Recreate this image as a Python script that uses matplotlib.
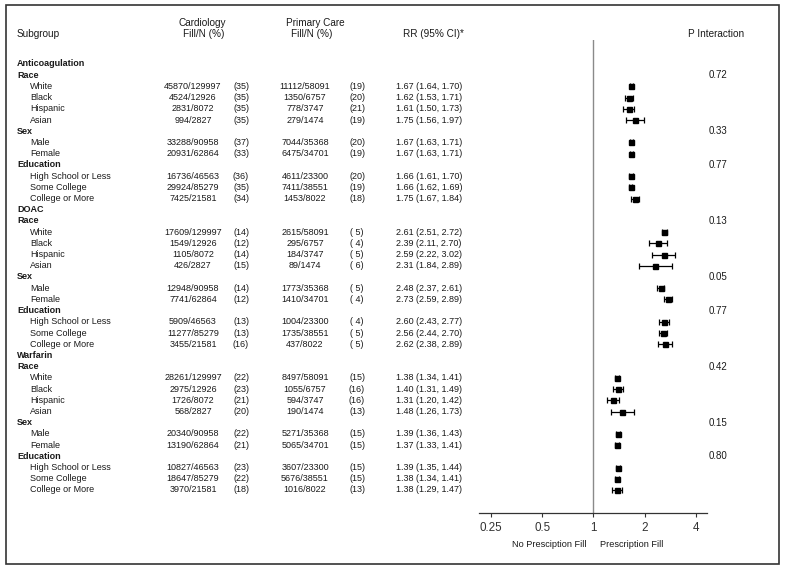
import numpy as np
import matplotlib
matplotlib.use('Agg')
import matplotlib.pyplot as plt
from matplotlib.transforms import blended_transform_factory
from matplotlib.patches import Rectangle

plt.rcParams['font.family'] = ['Liberation Sans', 'DejaVu Sans']

# ---- data ----
sections = ['Anticoagulation', 'DOAC', 'Warfarin']
categories = ['Race', 'Sex', 'Education']
subgroups = [['White', 'Black', 'Hispanic', 'Asian'],
             ['Male', 'Female'],
             ['High School or Less', 'Some College', 'College or More']]

card_fill = [[45870, 4524, 2831, 994, 33288, 20931, 16736, 29924, 7425],
             [17609, 1549, 1105, 426, 12948, 7741, 5909, 11277, 3455],
             [28261, 2975, 1726, 568, 20340, 13190, 10827, 18647, 3970]]
card_n = [129997, 12926, 8072, 2827, 90958, 62864, 46563, 85279, 21581]
card_pct = [[35, 35, 35, 35, 37, 33, 36, 35, 34],
            [14, 12, 14, 15, 14, 12, 13, 13, 16],
            [22, 23, 21, 20, 22, 21, 23, 22, 18]]

pc_fill = [[11112, 1350, 778, 279, 7044, 6475, 4611, 7411, 1453],
           [2615, 295, 184, 89, 1773, 1410, 1004, 1735, 437],
           [8497, 1055, 594, 190, 5271, 5065, 3607, 5676, 1016]]
pc_n = [58091, 6757, 3747, 1474, 35368, 34701, 23300, 38551, 8022]
pc_pct = [[19, 20, 21, 19, 20, 19, 20, 19, 18],
          [5, 4, 5, 6, 5, 4, 4, 5, 5],
          [15, 16, 16, 13, 15, 15, 15, 15, 13]]

rr = [[1.67, 1.62, 1.61, 1.75, 1.67, 1.67, 1.66, 1.66, 1.75],
      [2.61, 2.39, 2.59, 2.31, 2.48, 2.73, 2.60, 2.56, 2.62],
      [1.38, 1.40, 1.31, 1.48, 1.39, 1.37, 1.39, 1.38, 1.38]]
rr_lo = [[1.64, 1.53, 1.50, 1.56, 1.63, 1.63, 1.61, 1.62, 1.67],
         [2.51, 2.11, 2.22, 1.84, 2.37, 2.59, 2.43, 2.44, 2.38],
         [1.34, 1.31, 1.20, 1.26, 1.36, 1.33, 1.35, 1.34, 1.29]]
rr_hi = [[1.70, 1.71, 1.73, 1.97, 1.71, 1.71, 1.70, 1.69, 1.84],
         [2.72, 2.70, 3.02, 2.89, 2.61, 2.89, 2.77, 2.70, 2.89],
         [1.41, 1.49, 1.42, 1.73, 1.43, 1.41, 1.44, 1.41, 1.47]]
p_interaction = [['0.72', '0.33', '0.77'],
                 ['0.13', '0.05', '0.77'],
                 ['0.42', '0.15', '0.80']]

xticks = [0.25, 0.5, 1, 2, 4]
xtick_labels = ['0.25', '0.5', '1', '2', '4']

# ---- layout ----
W, H = 785, 570
fig = plt.figure(figsize=(W / 100, H / 100), dpi=100)
row0_px, row_h = 64, 11.21
ax_top_px, ax_bot_px = 40, 513
ax = fig.add_axes([479 / W, 1 - ax_bot_px / H, (707 - 479) / W, (ax_bot_px - ax_top_px) / H])

txt = '#1a1a1a'
fs = 6.5
trans = blended_transform_factory(fig.transFigure, ax.transData)

def put(xpx, row, s, ha='left', **kw):
    ax.text(xpx / W, row, s, transform=trans, ha=ha, va='center',
            fontsize=kw.pop('fontsize', fs), color=txt, clip_on=False, **kw)

row = 0
est_rows, est, lo, hi = [], [], [], []
for si, sec in enumerate(sections):
    put(17, row, sec, fontweight='bold')
    row += 1
    k = 0
    for ci, cat in enumerate(categories):
        put(17, row, cat, fontweight='bold')
        put(718, row, p_interaction[si][ci], ha='center', fontsize=7)
        row += 1
        for name in subgroups[ci]:
            put(30, row, name)
            put(193, row, f'{card_fill[si][k]}/{card_n[k]}', ha='center')
            put(241, row, f'({card_pct[si][k]:2d})', ha='center')
            put(305, row, f'{pc_fill[si][k]}/{pc_n[k]}', ha='center')
            put(357, row, f'({pc_pct[si][k]:2d})', ha='center')
            put(396, row, f'{rr[si][k]:.2f} ({rr_lo[si][k]:.2f}, {rr_hi[si][k]:.2f})')
            est_rows.append(row)
            est.append(rr[si][k])
            lo.append(rr_lo[si][k])
            hi.append(rr_hi[si][k])
            k += 1
            row += 1

est, lo, hi = np.array(est), np.array(lo), np.array(hi)
ax.errorbar(est, est_rows, xerr=[est - lo, hi - est], fmt='s', color='black',
            ms=3.6, capsize=2.5, elinewidth=0.9, capthick=0.9)
ax.axvline(1, color='#8a8a8a', lw=1, zorder=0)

ax.set_xscale('log', base=2)
ax.set_xlim(0.213, 4.64)
ax.set_ylim((ax_bot_px - row0_px) / row_h, (ax_top_px - row0_px) / row_h)
ax.set_xticks(xticks)
ax.set_xticklabels(xtick_labels)
ax.xaxis.set_minor_locator(matplotlib.ticker.NullLocator())
ax.tick_params(axis='x', length=3, width=0.8, pad=3.5, labelsize=8.4, colors='#333333')
ax.set_yticks([])
for side in ['left', 'right', 'top']:
    ax.spines[side].set_visible(False)
ax.spines['bottom'].set_color('#333333')
ax.spines['bottom'].set_linewidth(0.9)

ax.annotate('No Presciption Fill', xy=(1, 0), xycoords=('data', 'axes fraction'),
            xytext=(-5, -22.5), textcoords='offset points', ha='right', va='center',
            fontsize=6.6, color=txt)
ax.annotate('Prescription Fill', xy=(1, 0), xycoords=('data', 'axes fraction'),
            xytext=(5, -22.5), textcoords='offset points', ha='left', va='center',
            fontsize=6.6, color=txt)

# ---- column headers ----
hfs = 7.2
fig.text(17 / W, 1 - 34 / H, 'Subgroup', ha='left', va='center', fontsize=hfs, color=txt)
fig.text(202 / W, 1 - 22.5 / H, 'Cardiology', ha='center', va='center', fontsize=hfs, color=txt)
fig.text(204 / W, 1 - 34 / H, 'Fill/N (%)', ha='center', va='center', fontsize=hfs, color=txt)
fig.text(315 / W, 1 - 22.5 / H, 'Primary Care', ha='center', va='center', fontsize=hfs, color=txt)
fig.text(312 / W, 1 - 34 / H, 'Fill/N (%)', ha='center', va='center', fontsize=hfs, color=txt)
fig.text(433 / W, 1 - 34 / H, 'RR (95% CI)*', ha='center', va='center', fontsize=hfs, color=txt)
fig.text(716 / W, 1 - 34 / H, 'P Interaction', ha='center', va='center', fontsize=hfs, color=txt)

# outer frame
fig.add_artist(Rectangle((6 / W, 1 - 564 / H), (779 - 6) / W, (564 - 5) / H,
                         transform=fig.transFigure, fill=False, lw=1.2, ec='#333333'))

fig.savefig('out.png', dpi=100)
